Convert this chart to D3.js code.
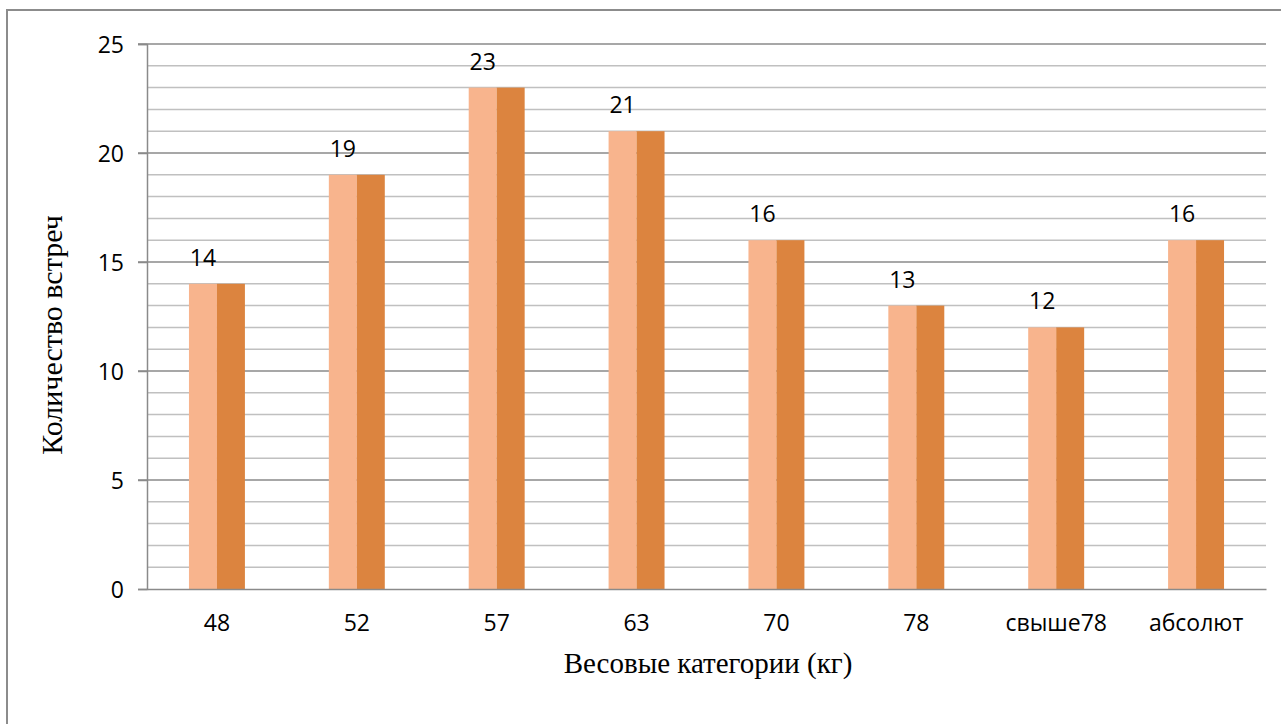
<!DOCTYPE html>
<html><head><meta charset="utf-8">
<script src="https://cdn.jsdelivr.net/npm/d3@7"></script>
<style>html,body{margin:0;padding:0;background:#fff;overflow:hidden}</style>
</head><body>
<svg id="chart" width="1281" height="724"></svg>
<script>
const categories = ["48","52","57","63","70","78","свыше78","абсолют"];
const seriesA = [14,19,23,21,16,13,12,16];
const seriesB = [14,19,23,21,16,13,12,16];
const yTicks = [0,5,10,15,20,25];
const xTitle = "Весовые категории (кг)";
const yTitle = "Количество встреч";

const svg = d3.select("#chart");
const M = {left:147, right:1266, top:44, bottom:589};
const tickFont = "'Open Sans', sans-serif";
const titleFont = "'Liberation Serif', 'Times New Roman', serif";

// outer border (extends off-canvas on right/bottom)
svg.append("rect").attr("x",7).attr("y",10).attr("width",1290).attr("height",730)
  .attr("fill","none").attr("stroke","#8c8c8c").attr("stroke-width",2);

const x = d3.scaleBand().domain(categories).range([M.left,M.right]).paddingInner(0.6).paddingOuter(0.3);
const xs = d3.scaleBand().domain(["a","b"]).range([0,x.bandwidth()]);
const y = d3.scaleLinear().domain([0,25]).range([M.bottom,M.top]);

// minor gridlines
const minor = d3.range(1,26).filter(v=>v%5!==0);
svg.append("g").selectAll("line").data(minor).join("line")
  .attr("x1",M.left).attr("x2",M.right).attr("y1",d=>y(d)).attr("y2",d=>y(d))
  .attr("stroke","#c0c0c0").attr("stroke-width",1.5);
// major gridlines
svg.append("g").selectAll("line").data(yTicks.filter(v=>v>0)).join("line")
  .attr("x1",M.left-9).attr("x2",M.right).attr("y1",d=>y(d)).attr("y2",d=>y(d))
  .attr("stroke","#8a8a8a").attr("stroke-width",1.5);

// bars
const gA = svg.append("g");
gA.selectAll("rect").data(seriesA).join("rect")
  .attr("x",(d,i)=>x(categories[i])+xs("a")).attr("width",xs.bandwidth())
  .attr("y",d=>y(d)).attr("height",d=>y(0)-y(d)).attr("fill","#F8B48D");
const gB = svg.append("g");
gB.selectAll("rect").data(seriesB).join("rect")
  .attr("x",(d,i)=>x(categories[i])+xs("b")).attr("width",xs.bandwidth())
  .attr("y",d=>y(d)).attr("height",d=>y(0)-y(d)).attr("fill","#DC843F");

// data labels (series A)
svg.append("g").selectAll("text").data(seriesA).join("text")
  .attr("x",(d,i)=>x(categories[i])+xs("a")+xs.bandwidth()/2)
  .attr("y",d=>y(d)-18).attr("text-anchor","middle")
  .attr("font-family",tickFont).attr("font-size",23).attr("fill","#000").text(d=>d);

// y axis
const yAxis = d3.axisLeft(y).tickValues(yTicks).tickSize(9).tickPadding(14);
const gy = svg.append("g").attr("transform",`translate(${M.left},0)`).call(yAxis);
gy.select(".domain").attr("stroke","#8a8a8a").attr("stroke-width",1.5);
gy.selectAll(".tick line").attr("stroke","#8a8a8a").attr("stroke-width",1.5);
gy.selectAll("text").attr("font-family",tickFont).attr("font-size",23).attr("fill","#000").attr("dy","0.35em");

// x axis
const xAxis = d3.axisBottom(x).tickSize(0).tickPadding(26);
const gx = svg.append("g").attr("transform",`translate(0,${M.bottom})`).call(xAxis);
gx.select(".domain").attr("stroke","#8a8a8a").attr("stroke-width",1.5);
gx.selectAll("text").attr("font-family",tickFont).attr("font-size",23).attr("fill","#000");

// axis titles
svg.append("text").attr("x",708).attr("y",673).attr("text-anchor","middle")
  .attr("font-family",titleFont).attr("font-size",29).attr("fill","#000").text(xTitle);
svg.append("text").attr("transform","translate(62,335) rotate(-90)").attr("text-anchor","middle")
  .attr("font-family",titleFont).attr("font-size",30).attr("fill","#000").text(yTitle);
</script>
</body></html>
